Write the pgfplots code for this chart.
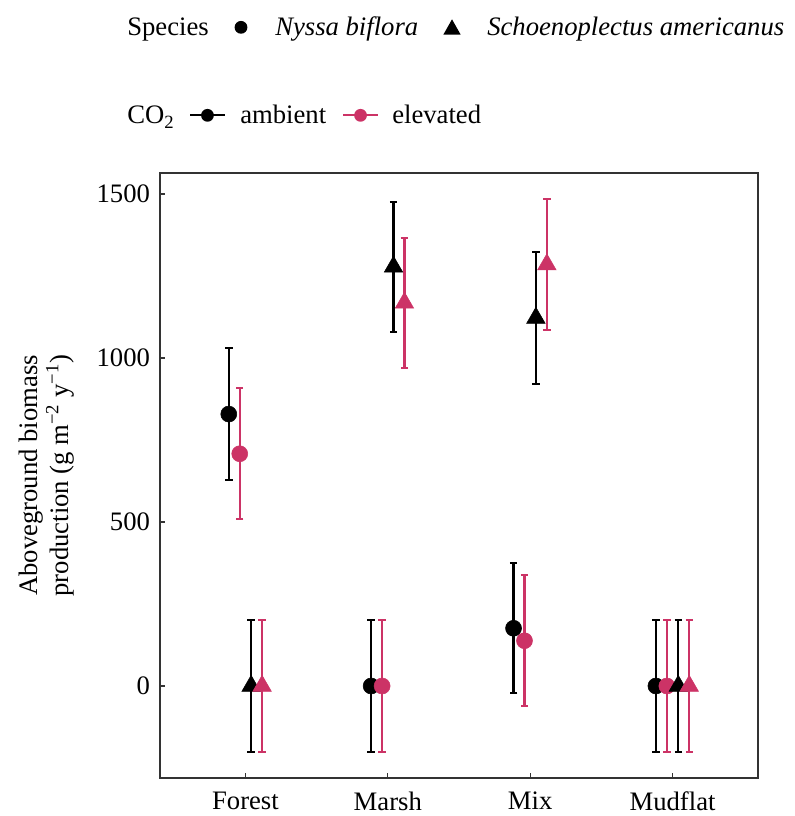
\documentclass[border=0pt]{standalone}
\usepackage{fontspec}
\setmainfont{Liberation Serif}
\usepackage{pgfplots}
\pgfplotsset{compat=1.18}
\usepackage{pgfplotstable}
\usepackage{xcolor}
\definecolor{elev}{HTML}{CC3366}
\definecolor{frame}{HTML}{333333}

\newcommand{\bigfont}{\fontsize{20}{23.5}\selectfont}

% x = site index, y = production, e = error half-width
\pgfplotstableread{
x y e
1 829 200
2 0 200
3 176 198
4 0 200
}\nyssaAmb
\pgfplotstableread{
x y e
1 708 200
2 0 200
3 138 199
4 0 200
}\nyssaElev
\pgfplotstableread{
x y e
1 0 200
2 1278 198
3 1122 200
4 0 200
}\schoAmb
\pgfplotstableread{
x y e
1 0 200
2 1168 198
3 1285 200
4 0 200
}\schoElev

\pgfplotsset{
  every error bar/.append style={line width=1.7pt},
  ebar/.style={error bars/.cd, y dir=both, y explicit,
    error mark options={rotate=90, mark size=2.8pt, line width=1.5pt}}}

\begin{document}
\begin{tikzpicture}
\begin{axis}[
  at={(0,0)}, anchor=south west,
  scale only axis, width=448.5pt, height=453.75pt,
  xmin=0.4, xmax=4.6, ymin=-280.5, ymax=1564,
  xtick={1,2,3,4}, xticklabels={Forest,Marsh,Mix,Mudflat},
  ytick={0,500,1000,1500},
  tick pos=left,
  tick align=inside, major tick length=3.75pt,
  tick style={frame, line width=1pt},
  axis line style={frame, line width=1.1pt},
  /pgf/number format/assume math mode=true,
  /pgf/number format/1000 sep={},
  tick label style={font=\bigfont, black},
  yticklabel style={xshift=-4pt},
  xticklabel style={yshift=-7pt},
  ylabel={Aboveground biomass\\production (g m\textsuperscript{−2} y\textsuperscript{−1})},
  ylabel style={at={(axis description cs:-0.19,0.5)}, anchor=center,
    align=center, font=\bigfont},
]
\addplot[only marks, mark=*, black, mark size=6pt, ebar]
  table[x expr=\thisrow{x}-0.117, y=y, y error=e] {\nyssaAmb};
\addplot[only marks, mark=*, elev, mark size=6pt, ebar]
  table[x expr=\thisrow{x}-0.04, y=y, y error=e] {\nyssaElev};
\addplot[only marks, mark=triangle*, black, mark size=8pt, ebar]
  table[x expr=\thisrow{x}+0.04, y=y, y error=e] {\schoAmb};
\addplot[only marks, mark=triangle*, elev, mark size=8pt, ebar]
  table[x expr=\thisrow{x}+0.117, y=y, y error=e] {\schoElev};
\end{axis}

% legends above the panel
\begin{scope}[every node/.style={font=\bigfont, inner sep=0pt, anchor=base west}]
  \node at (-24.75pt,556.5pt) {Species};
  \fill (60.75pt,563pt) circle (4.8pt);
  \node at (86.25pt,556.5pt) {\itshape Nyssa biflora};
  \fill (212.5pt,557.5pt) -- (225.5pt,557.5pt) -- (219pt,569pt) -- cycle;
  \node at (245.25pt,556.5pt) {\itshape Schoenoplectus americanus};

  \node at (-24.75pt,490.5pt) {CO\textsubscript{2}};
  \draw[line width=1.5pt] (22.5pt,497pt) -- (48.75pt,497pt);
  \fill (35.6pt,497pt) circle (4.8pt);
  \node at (60pt,490.5pt) {ambient};
  \draw[elev, line width=1.5pt] (137.25pt,497pt) -- (163.5pt,497pt);
  \fill[elev] (150.4pt,497pt) circle (4.8pt);
  \node at (174pt,490.5pt) {elevated};
\end{scope}

\path (-120pt,-28.5pt) rectangle (475.5pt,583.5pt);
\end{tikzpicture}
\end{document}
